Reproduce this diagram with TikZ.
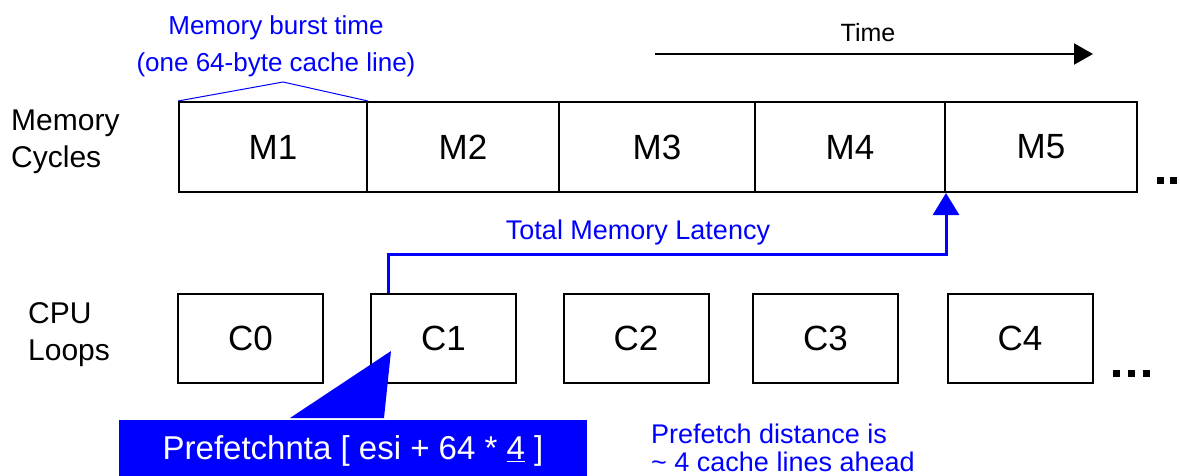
\documentclass[tikz,border=0pt]{standalone}
\usepackage{fontspec}
\setmainfont{Liberation Sans}
\usetikzlibrary{arrows.meta}
\definecolor{noteblue}{RGB}{0,0,255}
\tikzset{
  mbox/.style={draw,line width=2pt,minimum height=90pt,inner sep=0pt,font=\fontsize{35}{35}\selectfont},
  cbox/.style={draw,line width=2pt,minimum width=145pt,minimum height=89pt,inner sep=0pt,font=\fontsize{35}{35}\selectfont},
  rowlbl/.style={anchor=west,align=left,inner sep=0pt,font=\fontsize{30}{37}\selectfont},
  note/.style={text=noteblue,inner sep=0pt},
  sqdot/.style={fill,minimum size=7pt,inner sep=0pt},
}
\begin{document}
\begin{tikzpicture}[x=1pt,y=-1pt]
  \clip (0,0) rectangle (1180,475);
  \node[note,align=center,font=\fontsize{26}{37}\selectfont] (burst) at (276,46) {Memory burst time\\(one 64-byte cache line)};
  \node[inner sep=0pt,font=\fontsize{25}{25}\selectfont] (time) at (868,33) {Time};
  \draw[-{Triangle[length=19pt,width=21pt]},line width=2pt] (655,54) -- (1093,54);
  \node[rowlbl] (memlbl) at (11,142) {Memory\\Cycles};
  \node[rowlbl] (cpulbl) at (28,335) {CPU\\Loops};
  \foreach \i/\xa/\xb in {1/179/367,2/367/559,3/559/755,4/755/945,5/945/1137}
    \node[mbox,minimum width=\xb-\xa] (m\i) at ({(\xa+\xb)/2},147) {M\i};
  \foreach \i/\xc in {0/250.5,1/443.5,2/636,3/825.5,4/1020}
    \node[cbox] (c\i) at (\xc,338.5) {C\i};
  \draw[noteblue,line width=1pt] (m1.north west) -- (283,82) -- (m1.north east);
  \node[sqdot] (d1) at (1160.5,180) {};
  \node[sqdot] (d2) at (1173.5,180) {};
  \node[sqdot] (d3) at (1186.5,180) {};
  \node[sqdot] (e1) at (1116,373) {};
  \node[sqdot] (e2) at (1131,373) {};
  \node[sqdot] (e3) at (1146,373) {};
  \node[note,font=\fontsize{27}{27}\selectfont] (lat) at (638,233) {Total Memory Latency};
  \draw[noteblue,line width=3pt,-{Triangle[length=22pt,width=26pt]}]
    ([xshift=18pt]c1.north west) |- ([yshift=-61pt]m4.south east) -- (m4.south east);
  \fill[noteblue] (290,418) -- (391,351) -- (384,418) -- cycle;
  \node[fill=noteblue,text=white,minimum width=468pt,minimum height=62pt,inner sep=0pt,
    font=\fontsize{33}{33}\selectfont] (pf) at (353,451) {Prefetchnta [ esi + 64 * \underline{4} ]};
  \node[note,anchor=west,align=left,font=\fontsize{27}{28}\selectfont] (dist) at (651,448) {Prefetch distance is\\\textasciitilde{} 4 cache lines ahead};
\end{tikzpicture}
\end{document}
